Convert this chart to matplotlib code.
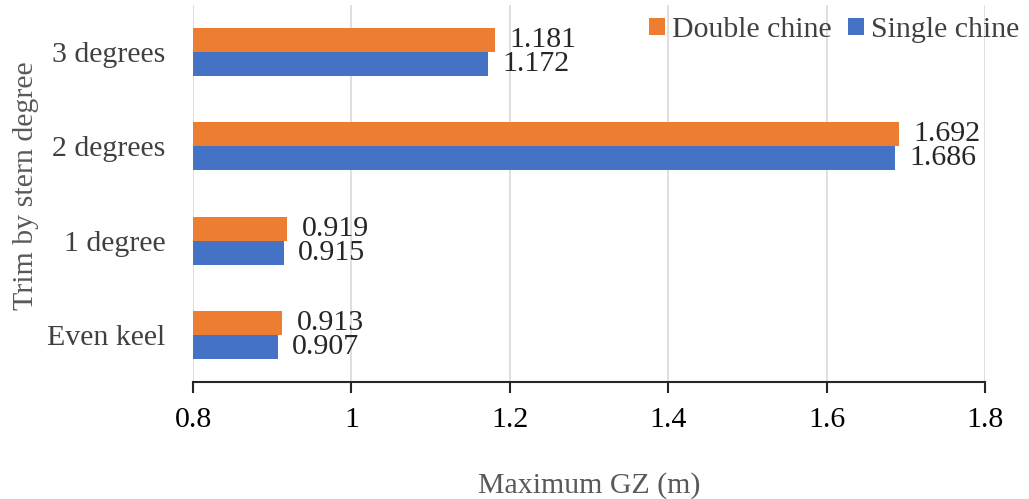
import matplotlib
matplotlib.use('Agg')
import matplotlib.pyplot as plt
import numpy as np

categories = ["Even keel", "1 degree", "2 degrees", "3 degrees"]
double_chine = [0.913, 0.919, 1.692, 1.181]
single_chine = [0.907, 0.915, 1.686, 1.172]

orange = "#ED7D31"
blue = "#4472C4"
fs = 21.5

plt.rcParams['font.family'] = ['Liberation Serif', 'DejaVu Serif']

fig = plt.figure(figsize=(10.29, 4.99), dpi=100)
ax = fig.add_axes([193 / 1029, 1 - 382 / 499, (985 - 193) / 1029, (382 - 5) / 499])

y = np.arange(len(categories))
h = 0.255
left = 0.8

bars_d = ax.barh(y + h / 2, np.array(double_chine) - left, height=h, left=left,
                 color=orange, label="Double chine", zorder=3)
bars_s = ax.barh(y - h / 2, np.array(single_chine) - left, height=h, left=left,
                 color=blue, label="Single chine", zorder=3)

# value labels just past the end of each bar
for vals, yy in ((double_chine, y + h / 2), (single_chine, y - h / 2)):
    for v, yc in zip(vals, yy):
        ax.text(v + 0.018, yc, f"{v:.3f}", va="center", ha="left",
                fontsize=fs, color="#262626")

ax.set_xlim(0.8, 1.8)
ax.set_ylim(-0.5, len(categories) - 0.5)
ax.set_xticks([0.8, 1.0, 1.2, 1.4, 1.6, 1.8])
ax.set_xticklabels(["0.8", "1", "1.2", "1.4", "1.6", "1.8"])
ax.set_yticks(y)
ax.set_yticklabels(categories)

ax.grid(axis="x", color="#d9d9d9", linewidth=1.2, zorder=0)
for s in ("top", "right", "left"):
    ax.spines[s].set_visible(False)
ax.spines["bottom"].set_color("#262626")
ax.spines["bottom"].set_linewidth(1.5)

ax.tick_params(axis="x", length=8, width=1.5, color="#262626", labelsize=fs,
               labelcolor="#000000", pad=10, direction="out")
ax.tick_params(axis="y", length=0, labelsize=fs, labelcolor="#404040", pad=20)

ax.set_xlabel("Maximum GZ (m)", fontsize=fs, color="#595959", labelpad=28)
ax.set_ylabel("Trim by stern degree", fontsize=fs, color="#595959")
ax.yaxis.set_label_coords(-0.195, 0.52)

leg = ax.legend(handles=[bars_d, bars_s], loc="upper right", ncol=2, frameon=False,
                fontsize=fs, handlelength=0.53, handleheight=0.53, handletextpad=0.23,
                columnspacing=0.55, bbox_to_anchor=(1.058, 1.0), borderaxespad=0)
for t in leg.get_texts():
    t.set_color("#404040")

fig.savefig("out.png", dpi=100)
